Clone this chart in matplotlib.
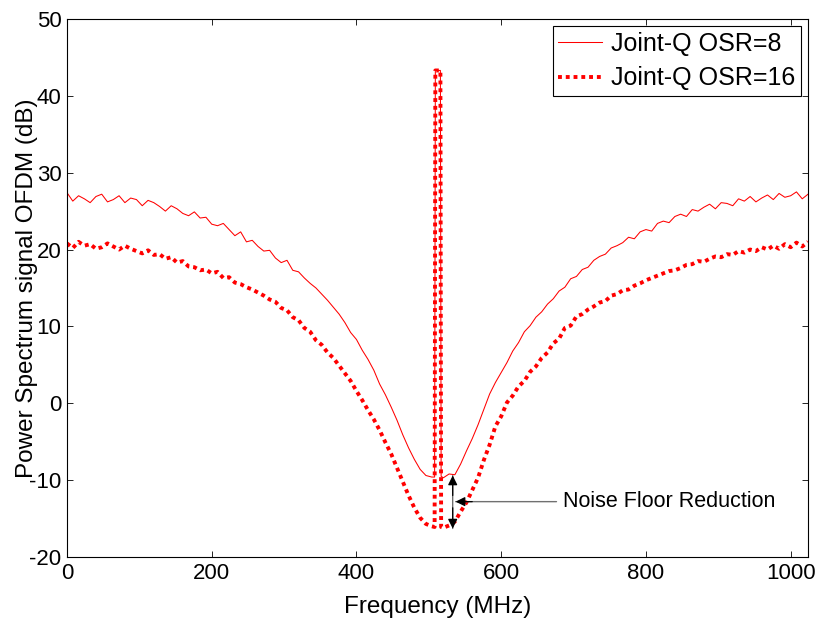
import numpy as np
import matplotlib
matplotlib.use('Agg')
import matplotlib.pyplot as plt

plt.rcParams['font.family'] = ['Liberation Sans', 'DejaVu Sans']
plt.rcParams['axes.unicode_minus'] = False

# frequency bins (MHz): 8 MHz grid plus the carrier edges
freq = np.concatenate([np.arange(0, 505, 8), [508, 509, 516, 517], np.arange(520, 1025, 8)])

# Joint-Q OSR=8 (dB)
osr8 = [27.4, 26.3, 27.0, 26.6, 26.1, 26.9, 27.2, 26.2,
        26.5, 27.0, 26.1, 26.7, 26.5, 25.7, 26.4, 26.1,
        25.6, 25.0, 25.7, 25.3, 24.7, 24.4, 24.9, 24.1,
        24.2, 23.3, 23.1, 23.4, 22.6, 21.8, 22.3, 21.0,
        21.2, 20.4, 19.8, 19.9, 18.9, 18.3, 18.6, 17.3,
        17.1, 16.3, 15.6, 15.0, 14.2, 13.4, 12.5, 11.6,
        10.5, 9.2, 8.3, 6.9, 5.7, 4.3, 2.5, 1.1,
        -0.5, -2.2, -4.1, -5.8, -7.3, -8.6, -9.4, -9.6,
        -9.6, 43.3, 43.3, -9.5,
        -9.7, -9.2, -9.3, -7.9, -6.2, -4.6, -2.8, -0.8,
        1.2, 2.7, 4.0, 5.3, 6.8, 7.9, 9.3, 10.1,
        11.2, 11.9, 12.9, 13.6, 14.6, 15.1, 16.2, 16.5,
        17.4, 17.7, 18.6, 19.1, 19.4, 20.2, 20.5, 20.9,
        21.6, 21.4, 22.3, 22.6, 22.4, 23.4, 23.7, 23.5,
        24.3, 24.6, 24.3, 25.2, 25.0, 25.5, 25.9, 25.3,
        26.1, 26.0, 25.7, 26.6, 26.3, 26.9, 26.2, 26.7,
        27.1, 26.5, 27.3, 26.8, 27.0, 27.5, 26.6, 27.2]

# Joint-Q OSR=16 (dB)
osr16 = [20.8, 20.2, 21.0, 20.5, 20.7, 20.1, 20.3, 20.8,
         20.4, 20.0, 20.5, 20.1, 19.8, 19.5, 19.9, 19.3,
         19.4, 18.8, 19.0, 18.3, 18.5, 17.8, 17.7, 17.3,
         17.4, 16.9, 17.1, 16.3, 16.4, 15.7, 15.5, 15.1,
         14.8, 14.4, 14.0, 13.5, 13.2, 12.4, 12.1, 11.2,
         10.8, 9.8, 9.3, 8.2, 7.6, 6.6, 5.9, 4.9,
         3.9, 2.9, 1.6, 0.4, -0.9, -2.1, -3.5, -5.1,
         -6.6, -8.4, -10.2, -12.0, -13.6, -14.9, -15.7, -16.0,
         -16.1, 43.3, 43.3, -16.1,
         -16.2, -15.9, -15.4, -14.1, -12.9, -11.3, -9.7, -7.4,
         -5.4, -3.0, -1.7, 0.1, 1.0, 2.2, 2.9, 4.1,
         4.8, 5.9, 6.6, 7.8, 8.4, 9.8, 10.1, 11.3,
         11.6, 12.2, 12.6, 13.1, 13.3, 14.0, 14.2, 14.7,
         14.8, 15.3, 15.6, 16.0, 16.3, 16.6, 16.9, 17.2,
         17.3, 17.6, 18.0, 18.1, 18.5, 18.4, 18.8, 19.1,
         19.0, 19.4, 19.3, 19.8, 19.6, 20.0, 19.8, 20.3,
         20.0, 20.5, 20.1, 20.7, 20.3, 20.9, 20.4, 21.0]

fig = plt.figure(figsize=(8.2, 6.32), dpi=100)
ax = fig.add_axes([0.0817, 0.1187, 0.9037, 0.8513])

ax.plot(freq, osr8, 'r-', linewidth=0.75, label='Joint-Q OSR=8')
ax.plot(freq, osr16, color='red', linestyle=(0, (1, 1)), linewidth=2.8,
        label='Joint-Q OSR=16')

# noise floor annotation: grey shafts, black heads
ax.annotate('', xy=(533, -9.4), xytext=(533, -16.3),
            arrowprops=dict(arrowstyle='-', color='#606060', lw=0.9,
                            shrinkA=0, shrinkB=0))
ax.annotate('', xy=(533, -9.4), xytext=(533, -12.0),
            arrowprops=dict(arrowstyle='-|>', color='black', lw=0.9,
                            mutation_scale=14, shrinkA=0, shrinkB=0))
ax.annotate('', xy=(533, -16.3), xytext=(533, -13.6),
            arrowprops=dict(arrowstyle='-|>', color='black', lw=0.9,
                            mutation_scale=14, shrinkA=0, shrinkB=0))
ax.annotate('Noise Floor Reduction', xy=(537, -12.8), xytext=(686, -12.8),
            fontsize=15.5, va='center', ha='left',
            arrowprops=dict(arrowstyle='-', color='#707070', lw=1.0,
                            shrinkA=3, shrinkB=0))
ax.annotate('', xy=(537, -12.8), xytext=(560, -12.8),
            arrowprops=dict(arrowstyle='-|>', color='black', lw=0.9,
                            mutation_scale=14, shrinkA=0, shrinkB=0))

ax.set_xlim(0, 1024)
ax.set_ylim(-20, 50)
ax.set_xticks([0, 200, 400, 600, 800, 1000])
ax.set_yticks(np.arange(-20, 51, 10))
ax.tick_params(direction='in', length=4, width=0.6, labelsize=16, pad=4,
               top=True, right=True)
for s in ax.spines.values():
    s.set_linewidth(0.8)

ax.set_xlabel('Frequency (MHz)', fontsize=17.5, labelpad=9)
ax.set_ylabel('Power Spectrum signal OFDM (dB)', fontsize=17.5)
ax.yaxis.set_label_coords(-0.039, 0.5)

leg = ax.legend(loc='upper right', fontsize=18, fancybox=False, framealpha=1,
                edgecolor='black', borderaxespad=0.3, borderpad=0.22,
                handlelength=1.75, handletextpad=0.35, labelspacing=0.42)
leg.get_frame().set_linewidth(0.8)

fig.savefig('out.png', dpi=100)
